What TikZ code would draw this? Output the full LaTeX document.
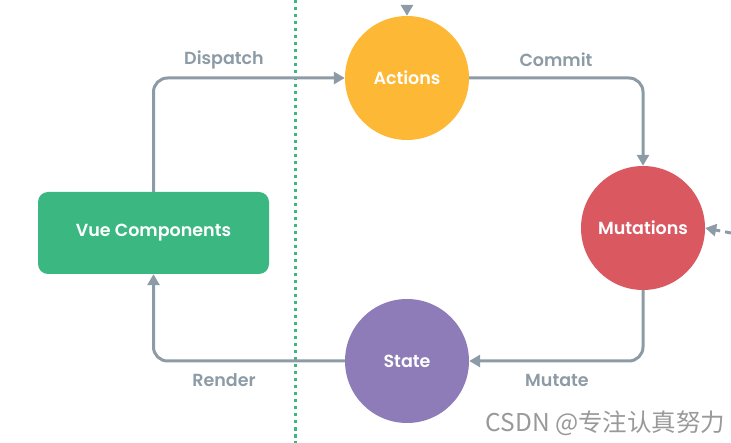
\documentclass[tikz,border=0pt]{standalone}
\usepackage{fontspec}
\setmainfont{Poppins}[BoldFont={Poppins SemiBold}]
\newfontfamily\cjk{Noto Sans CJK SC}
\usetikzlibrary{arrows.meta}
\definecolor{vgreen}{HTML}{3BB881}
\definecolor{vorange}{HTML}{FDB835}
\definecolor{vred}{HTML}{DA5961}
\definecolor{vpurple}{HTML}{8E7CB8}
\definecolor{vgray}{HTML}{8C9BA5}
\begin{document}
\begin{tikzpicture}[x=1pt,y=-1pt,
  circ/.style={circle,minimum size=124pt,inner sep=0pt,text=white,font=\fontsize{17.5}{20}\selectfont\bfseries},
  flow/.style={draw=vgray,line width=3pt,rounded corners=14pt,-{Triangle[width=12pt,length=11pt]}},
  lab/.style={text=vgray,font=\fontsize{17.5}{20}\selectfont\bfseries,inner sep=1pt}]
  \useasboundingbox (0,0) rectangle (731,443);
  % divider
  \draw[vgreen,line width=3pt,dash pattern=on 3.5pt off 3.5pt] (295,0) -- (295,443);
  % nodes
  \node[circ,fill=vorange] (act) at (407,78) {Actions};
  \node[circ,fill=vred] (mut) at (643,228) {Mutations};
  \node[circ,fill=vpurple] (st) at (407,361) {State};
  \node[rectangle,rounded corners=10pt,fill=vgreen,text=white,minimum width=231pt,minimum height=82pt,
    font=\fontsize{17.5}{20}\selectfont\bfseries] (vue) at (153.5,233) {Vue Components};
  % cycle
  \draw[flow] (vue.north) |- (act.west);
  \draw[flow] (act.east) -| (mut.north);
  \draw[flow] (mut.south) |- (st.east);
  \draw[flow] (st.west) -| (vue.south);
  % inputs
  \coordinate (tin) at (407,5);
  \draw[flow,-{Triangle[width=12pt,length=11pt]}] (tin) -- (act.north);
  \coordinate (rin) at (731,233);
  \draw[flow,dashed,dash pattern=on 6pt off 5pt] (rin) -- (mut.east);
  % labels
  \node[lab] (ldis) at (224,60) {Dispatch};
  \node[lab] (lcom) at (556,60) {Commit};
  \node[lab] (lmut) at (557,380) {Mutate};
  \node[lab] (lren) at (224,380) {Render};
  \node[text=black!40,font=\cjk\fontsize{24.5}{26}\selectfont,anchor=east] (wm) at (729,423) {CSDN @专注认真努力};
\end{tikzpicture}
\end{document}
